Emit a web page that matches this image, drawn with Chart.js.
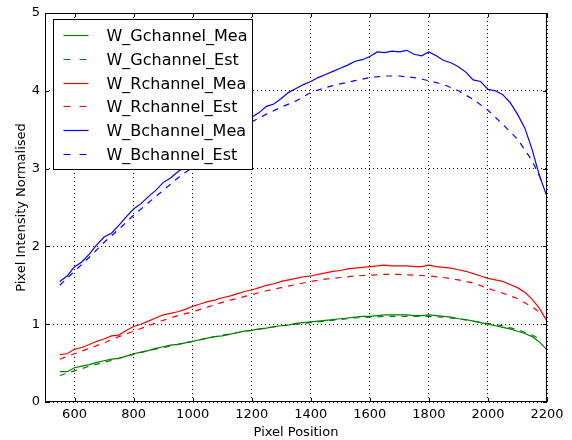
<!DOCTYPE html>
<html>
<head>
<meta charset="utf-8">
<script src="https://cdn.jsdelivr.net/npm/chart.js@4/dist/chart.umd.min.js"></script>
<style>
  html, body { margin: 0; padding: 0; background: #fff; }
  #wrap { width: 572px; height: 440px; }
</style>
</head>
<body>
<div id="wrap"><canvas id="chart"></canvas></div>
<script>
// Data
const measX = [550, 575, 600, 625, 650, 675, 700, 725, 750, 775, 800, 825, 850, 875, 900, 925, 950, 975,
    1000, 1025, 1050, 1075, 1100, 1125, 1150, 1175, 1200, 1225, 1250, 1275, 1300, 1325, 1350, 1375,
    1400, 1425, 1450, 1475, 1500, 1525, 1550, 1575, 1600, 1625, 1650, 1675, 1700, 1725, 1750, 1775,
    1800, 1825, 1850, 1875, 1900, 1925, 1950, 1975, 2000, 2025, 2050, 2075, 2100, 2125, 2150, 2175, 2200];

const estX = [550, 600, 650, 700, 750, 800, 850, 900, 950, 1000, 1050, 1100, 1150, 1200, 1250, 1300, 1350,
    1400, 1450, 1500, 1550, 1600, 1650, 1700, 1750, 1800, 1850, 1900, 1950, 2000, 2050, 2100, 2150, 2180];

const gMea = [0.39, 0.39, 0.44, 0.46, 0.48, 0.51, 0.53, 0.55, 0.56, 0.59, 0.62, 0.64, 0.66, 0.69, 0.71, 0.73, 0.74, 0.76,
    0.78, 0.80, 0.82, 0.84, 0.85, 0.87, 0.89, 0.91, 0.92, 0.94, 0.95, 0.97, 0.98, 0.99, 1.01, 1.02,
    1.03, 1.04, 1.05, 1.06, 1.07, 1.08, 1.09, 1.10, 1.10, 1.11, 1.12, 1.12, 1.12, 1.12, 1.11, 1.11,
    1.12, 1.11, 1.10, 1.09, 1.07, 1.06, 1.04, 1.02, 1.00, 0.98, 0.96, 0.94, 0.91, 0.88, 0.84, 0.77, 0.67];
const gEst = [0.34, 0.40, 0.46, 0.51, 0.56, 0.61, 0.66, 0.70, 0.74, 0.78, 0.82, 0.86, 0.89, 0.92, 0.95, 0.98, 1.00,
    1.02, 1.04, 1.06, 1.08, 1.09, 1.10, 1.10, 1.10, 1.10, 1.09, 1.07, 1.04, 1.01, 0.98, 0.93, 0.86, 0.80];

const rMea = [0.61, 0.62, 0.68, 0.70, 0.74, 0.78, 0.81, 0.85, 0.86, 0.92, 0.97, 1.00, 1.04, 1.08, 1.12, 1.14, 1.16, 1.19,
    1.23, 1.26, 1.29, 1.31, 1.34, 1.36, 1.39, 1.42, 1.44, 1.47, 1.50, 1.52, 1.55, 1.57, 1.59, 1.61,
    1.62, 1.64, 1.66, 1.68, 1.69, 1.71, 1.72, 1.73, 1.74, 1.75, 1.76, 1.75, 1.75, 1.75, 1.74, 1.74,
    1.76, 1.74, 1.73, 1.72, 1.70, 1.68, 1.65, 1.62, 1.59, 1.57, 1.55, 1.51, 1.47, 1.41, 1.32, 1.20, 1.04];
const rEst = [0.55, 0.62, 0.69, 0.76, 0.84, 0.91, 0.98, 1.05, 1.11, 1.16, 1.22, 1.28, 1.33, 1.38, 1.43, 1.47, 1.51,
    1.55, 1.58, 1.60, 1.62, 1.63, 1.64, 1.64, 1.63, 1.62, 1.60, 1.57, 1.53, 1.46, 1.40, 1.33, 1.22, 1.14];

const bMea = [1.55, 1.62, 1.74, 1.80, 1.90, 2.02, 2.12, 2.17, 2.27, 2.38, 2.48, 2.55, 2.64, 2.72, 2.82, 2.88, 2.96, 3.03,
    3.10, 3.17, 3.24, 3.31, 3.38, 3.45, 3.51, 3.58, 3.66, 3.72, 3.80, 3.83, 3.90, 3.98, 4.03, 4.08,
    4.12, 4.17, 4.21, 4.25, 4.29, 4.33, 4.38, 4.40, 4.44, 4.50, 4.49, 4.51, 4.50, 4.52, 4.47, 4.45,
    4.50, 4.45, 4.39, 4.36, 4.31, 4.24, 4.14, 4.12, 4.02, 4.00, 3.95, 3.85, 3.70, 3.52, 3.24, 2.90, 2.64];
const bEst = [1.50, 1.68, 1.86, 2.05, 2.22, 2.40, 2.56, 2.72, 2.88, 3.02, 3.16, 3.30, 3.43, 3.60, 3.70, 3.79, 3.87,
    3.98, 4.04, 4.09, 4.13, 4.17, 4.19, 4.19, 4.17, 4.13, 4.08, 4.00, 3.89, 3.75, 3.57, 3.38, 3.10, 2.86];

const seriesLabels = ['W_Gchannel_Mea', 'W_Gchannel_Est', 'W_Rchannel_Mea', 'W_Rchannel_Est', 'W_Bchannel_Mea', 'W_Bchannel_Est'];
const seriesColors = ['#008000', '#008000', '#ff0000', '#ff0000', '#0000ff', '#0000ff'];
const seriesDashed = [false, true, false, true, false, true];
const xTicks = [600, 800, 1000, 1200, 1400, 1600, 1800, 2000, 2200];
const yTicks = [0, 1, 2, 3, 4, 5];

const FONT = "'DejaVu Sans', sans-serif";

function pts(xs, ys) {
    return xs.map((x, i) => ({ x: x, y: ys[i] }));
}

function line(i, xs, ys) {
    return {
        label: seriesLabels[i],
        data: pts(xs, ys),
        borderColor: seriesColors[i],
        backgroundColor: seriesColors[i],
        borderWidth: 1.2,
        borderDash: seriesDashed[i] ? [6, 6] : [],
        pointRadius: 0,
        tension: 0,
        fill: false
    };
}

// Rahmen, Ticks nach innen, Legende im Plot
const framePlugin = {
    id: 'frame',
    afterDatasetsDraw(chart) {
        const { ctx, chartArea: a, scales } = chart;
        ctx.save();
        ctx.strokeStyle = '#000';
        ctx.lineWidth = 1;
        ctx.setLineDash([]);
        // inward ticks
        ctx.beginPath();
        xTicks.forEach(v => {
            const px = Math.round(scales.x.getPixelForValue(v)) + 0.5;
            ctx.moveTo(px, a.bottom); ctx.lineTo(px, a.bottom - 4);
            ctx.moveTo(px, a.top); ctx.lineTo(px, a.top + 4);
        });
        yTicks.forEach(v => {
            const py = Math.round(scales.y.getPixelForValue(v)) + 0.5;
            ctx.moveTo(a.left, py); ctx.lineTo(a.left + 4, py);
            ctx.moveTo(a.right, py); ctx.lineTo(a.right - 4, py);
        });
        ctx.stroke();
        ctx.strokeRect(Math.round(a.left) + 0.5, Math.round(a.top) + 0.5,
            Math.round(a.width) - 1, Math.round(a.height) - 1);

        // legend box
        const bx = a.left + 8.5, by = a.top + 6.5, bw = 199, bh = 150;
        ctx.fillStyle = '#fff';
        ctx.fillRect(bx, by, bw, bh);
        ctx.strokeRect(bx, by, bw, bh);
        ctx.font = '16px ' + FONT;
        ctx.textBaseline = 'middle';
        seriesLabels.forEach((label, i) => {
            const cy = Math.round(by + 15.5 + i * 23.8) + 0.5;
            ctx.beginPath();
            ctx.strokeStyle = seriesColors[i];
            ctx.lineWidth = 1.2;
            ctx.setLineDash(seriesDashed[i] ? [7, 9] : []);
            ctx.moveTo(bx + 10, cy);
            ctx.lineTo(bx + 35, cy);
            ctx.stroke();
            ctx.fillStyle = '#000';
            ctx.fillText(label, bx + 53, cy + 1);
        });
        ctx.restore();
    }
};

document.addEventListener("DOMContentLoaded", () => {
    const ctx = document.getElementById('chart').getContext('2d');
    new Chart(ctx, {
        type: 'line',
        data: {
            datasets: [
                line(0, measX, gMea),
                line(1, estX, gEst),
                line(2, measX, rMea),
                line(3, estX, rEst),
                line(4, measX, bMea),
                line(5, estX, bEst)
            ]
        },
        options: {
            responsive: true,
            maintainAspectRatio: false,
            animation: false,
            layout: { padding: { left: 14, right: 25, top: 13, bottom: 0 } },
            plugins: {
                legend: { display: false },
                tooltip: { enabled: false }
            },
            scales: {
                x: {
                    type: 'linear',
                    min: 500,
                    max: 2200,
                    afterBuildTicks: scale => { scale.ticks = xTicks.map(v => ({ value: v })); },
                    afterFit: scale => { scale.height = 38; },
                    grid: { color: '#000', lineWidth: 1, drawTicks: false },
                    border: { display: false, dash: [1, 3] },
                    ticks: { color: '#000', padding: 5, maxRotation: 0, callback: v => String(v), font: { family: FONT, size: 13 } },
                    title: { display: true, text: 'Pixel Position', color: '#000', padding: 0, font: { family: FONT, size: 13 } }
                },
                y: {
                    min: 0,
                    max: 5,
                    afterBuildTicks: scale => { scale.ticks = yTicks.map(v => ({ value: v })); },
                    afterFit: scale => { scale.width = 31; },
                    grid: { color: '#000', lineWidth: 1, drawTicks: false },
                    border: { display: false, dash: [1, 3] },
                    ticks: { color: '#000', padding: 5, callback: v => String(v), font: { family: FONT, size: 13 } },
                    title: { display: true, text: 'Pixel Intensity Normalised', color: '#000', padding: 0, font: { family: FONT, size: 13 } }
                }
            }
        },
        plugins: [framePlugin]
    });
});
</script>
</body>
</html>
